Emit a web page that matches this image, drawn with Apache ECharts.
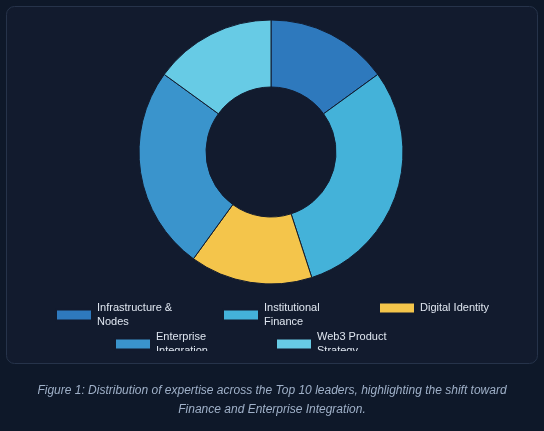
<!DOCTYPE html><html><head><meta charset="utf-8">
<script src="https://cdn.jsdelivr.net/npm/echarts@6/dist/echarts.min.js"></script>
<style>html,body{margin:0;padding:0;background:#0e1829;}#c{width:544px;height:431px;}</style></head><body><div id="c"></div>
<script>
const categories=["Infrastructure & Nodes","Institutional Finance","Digital Identity","Enterprise Integration","Web3 Product Strategy"];
const legendLabels=["Infrastructure &\nNodes","Institutional\nFinance","Digital Identity","Enterprise\nIntegration","Web3 Product\nStrategy"];
const values=[15,30,15,25,15];
const colors=["#2e79bd","#44b2d9","#f4c54b","#3a94cc","#67cbe5"];
const caption=["Figure 1: Distribution of expertise across the Top 10 leaders, highlighting the shift toward","Finance and Enterprise Integration."];
const chart=echarts.init(document.getElementById('c'));
const lt={color:'#dfe6f0',fontSize:11,fontFamily:'Arial, Liberation Sans, sans-serif',lineHeight:14,verticalAlign:'top'};
const pos=[[55,301],[222,301],[378,301],[114,330],[275,330]];
chart.setOption({
 backgroundColor:'#0e1829',
 graphic:[
  {type:'rect',shape:{x:6.5,y:6.5,width:531,height:357,r:8},style:{fill:'#121b2e',stroke:'#26334a',lineWidth:1},z:-10},
  {type:'rect',shape:{x:100,y:351,width:330,height:11},style:{fill:'#121b2e'},z:100,zlevel:1},
  {type:'text',x:272,y:381,style:{text:caption.join('\n'),fill:'#9fb0c8',font:'italic 12px Arial, Liberation Sans, sans-serif',align:'center',lineHeight:19}}
 ],
 color:colors,
 legend:categories.map((n,i)=>({data:[n],left:pos[i][0],top:pos[i][1],itemWidth:36,itemHeight:11,icon:'rect',selectedMode:false,
   formatter:()=>legendLabels[i],textStyle:lt,padding:0})),
 series:[{type:'pie',center:[271,152],radius:[65,132],startAngle:90,label:{show:false},labelLine:{show:false},
  itemStyle:{borderColor:'#121b2e',borderWidth:1},emphasis:{disabled:true},
  data:categories.map((n,i)=>({name:n,value:values[i]}))}]
});
</script></body></html>
